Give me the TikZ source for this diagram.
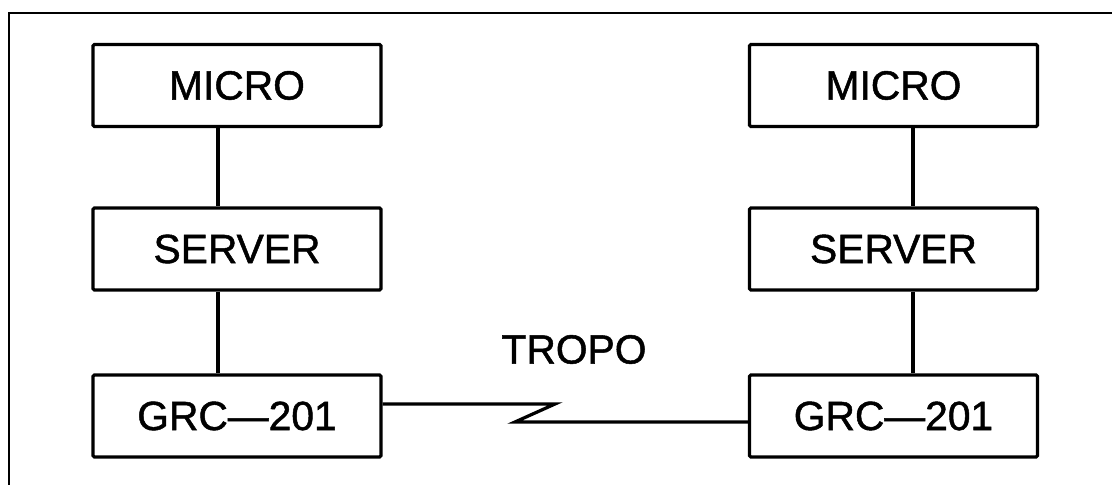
\documentclass[tikz,border=0pt]{standalone}
\usepackage{fontspec}
\newfontfamily\plotfont{Liberation Sans}[FakeBold=1.2,Ligatures=TeX]

\begin{document}
\begin{tikzpicture}[x=0.025cm,y=0.025cm,
  unitbox/.style={draw,line width=2.3pt,rounded corners=1pt,minimum width=7.2cm,minimum height=2.05cm,inner sep=0pt,font=\plotfont\fontsize{29}{35}\selectfont},
  link/.style={line width=2.3pt}]
\useasboundingbox (0,0) rectangle (1112,485);
\draw[line width=1.7pt] (1112,472) -- (9,472) -- (9,0);
% the two stations
\foreach \side/\cx/\dx in {l/237/-19,r/893.5/19.5} {
  \node[unitbox] (\side micro) at (\cx,399.5) {MICRO};
  \node[unitbox] (\side server) at (\cx,236) {SERVER};
  \node[unitbox] (\side grc) at (\cx,69) {GRC---201};
  \draw[link] ([xshift=\dx*0.025cm]\side micro.south) -- ([xshift=\dx*0.025cm]\side server.north);
  \draw[link] ([xshift=\dx*0.025cm]\side server.south) -- ([xshift=\dx*0.025cm]\side grc.north);
}
% tropo link
\node[font=\plotfont\fontsize{29}{35}\selectfont] (tropo) at (574,135.5) {TROPO};
\coordinate (zigA) at (555,81);
\coordinate (zigB) at (515,63);
\draw[link,line join=miter] (lgrc.east |- zigA) -- (zigA) -- (zigB) -- (rgrc.west |- zigB);
\end{tikzpicture}
\end{document}
